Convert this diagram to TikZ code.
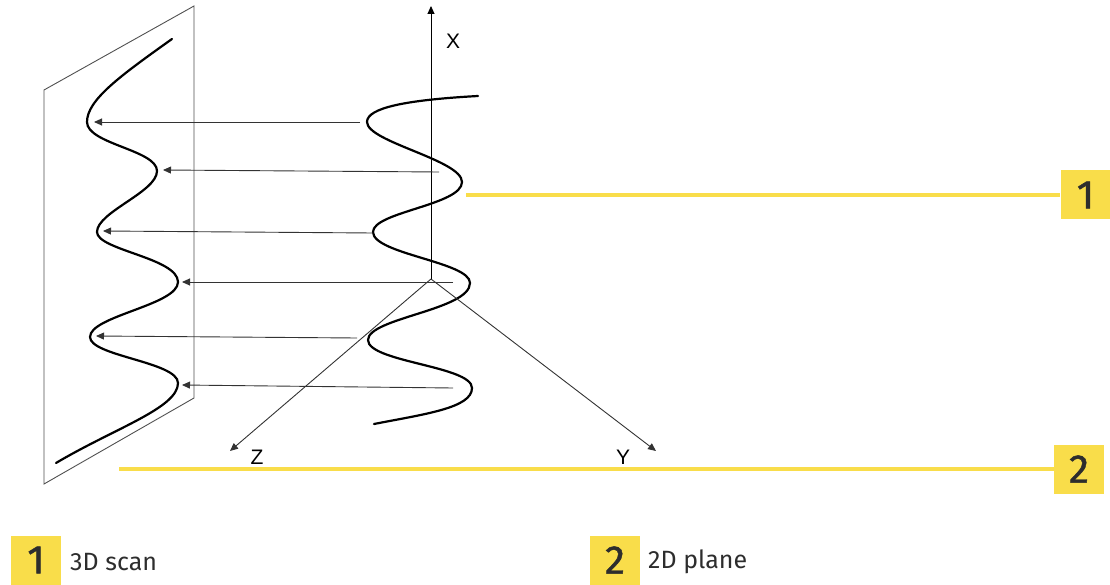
\documentclass[tikz,border=0pt]{standalone}
\usepackage{fontspec}
\setmainfont{Fira Sans}
\newfontfamily\axisfont{Liberation Sans}
\newfontfamily\numfont[FakeBold=1.2]{Fira Sans}
\usetikzlibrary{arrows.meta}
\definecolor{callout}{RGB}{249, 221, 74}
\definecolor{ink}{RGB}{45, 45, 45}
\definecolor{wire}{RGB}{80, 80, 80}

\begin{document}
\begin{tikzpicture}[x=1pt, y=-1pt,
    numbox/.style={fill=callout, text=ink, minimum width=50, minimum height=49, inner sep=0,
      font=\numfont\fontsize{40}{40}\selectfont},
    leader/.style={draw=callout, line width=3.5},
    wave/.style={draw=black, line width=2.2, line cap=round},
    thin/.style={draw=wire, line width=0.9},
    ray/.style={draw=black!80, line width=0.9, -{Triangle[length=8pt, width=7pt]}},
    axislabel/.style={text=black, font=\axisfont\fontsize{21}{21}\selectfont, inner sep=0}]
  \useasboundingbox (0, 0) rectangle (1110, 585);

  % 2D plane
  \draw[thin] (44, 484) -- (44, 90) -- (194, 6) -- (194, 398) -- cycle;

  % projected curve on the plane
  \draw[wave] (56, 463) .. controls (115, 428) and (178, 408) .. (178, 383)
    .. controls (178, 362) and (90, 356) .. (90, 337)
    .. controls (90, 316) and (178, 305) .. (178, 282)
    .. controls (178, 258) and (97, 250) .. (97, 232)
    .. controls (97, 212) and (157, 192) .. (157, 171)
    .. controls (157, 150) and (87, 144) .. (87, 122)
    .. controls (87, 100) and (120, 76) .. (172, 39);

  % 3D scan
  \draw[wave] (478, 96) .. controls (405, 100) and (367, 108) .. (367, 122)
    .. controls (367, 142) and (462, 160) .. (462, 182)
    .. controls (462, 205) and (373, 212) .. (373, 232)
    .. controls (373, 254) and (470, 262) .. (470, 283)
    .. controls (470, 310) and (368, 318) .. (368, 340)
    .. controls (368, 362) and (472, 366) .. (472, 388)
    .. controls (472, 408) and (425, 414) .. (374, 424);

  % axes
  \coordinate (origin) at (431, 279);
  \coordinate (xend) at (431, 6);
  \coordinate (yend) at (656, 451);
  \coordinate (zend) at (230, 451);
  \draw[ray, draw=black] (origin) -- (xend);
  \draw[ray] (origin) -- (yend);
  \draw[ray] (origin) -- (zend);
  \node[axislabel] (xlabel) at (453, 41) {X};
  \node[axislabel] (ylabel) at (623, 457) {Y};
  \node[axislabel] (zlabel) at (257, 457) {Z};

  % projection arrows
  \coordinate (h1) at (360, 122);  \coordinate (p1) at (94, 122);
  \coordinate (h2) at (439, 172);  \coordinate (p2) at (163, 170);
  \coordinate (h3) at (373, 233);  \coordinate (p3) at (103, 231);
  \coordinate (h4) at (453, 282);  \coordinate (p4) at (182, 282);
  \coordinate (h5) at (357, 338);  \coordinate (p5) at (96, 336);
  \coordinate (h6) at (453, 388);  \coordinate (p6) at (182, 385);
  \draw[ray] (h1) -- (p1);
  \draw[ray] (h2) -- (p2);
  \draw[ray] (h3) -- (p3);
  \draw[ray] (h4) -- (p4);
  \draw[ray] (h5) -- (p5);
  \draw[ray] (h6) -- (p6);

  % callouts
  \node[numbox] (box1) at (1085.5, 195) {1};
  \node[numbox] (box2) at (1079, 469) {2};
  \coordinate (lead1) at (466, 195);
  \coordinate (lead2) at (119, 469);
  \draw[leader] (lead1) -- (box1);
  \draw[leader] (lead2) -- (box2);

  % legend
  \node[numbox] (key1) at (36, 560) {1};
  \node[text=ink, anchor=west, inner sep=0, font=\fontsize{25}{25}\selectfont] (key1text)
    at (70, 562) {3D scan};
  \node[numbox] (key2) at (615, 560) {2};
  \node[text=ink, anchor=west, inner sep=0, font=\fontsize{25}{25}\selectfont] (key2text)
    at (648, 562) {2D plane};
\end{tikzpicture}
\end{document}
